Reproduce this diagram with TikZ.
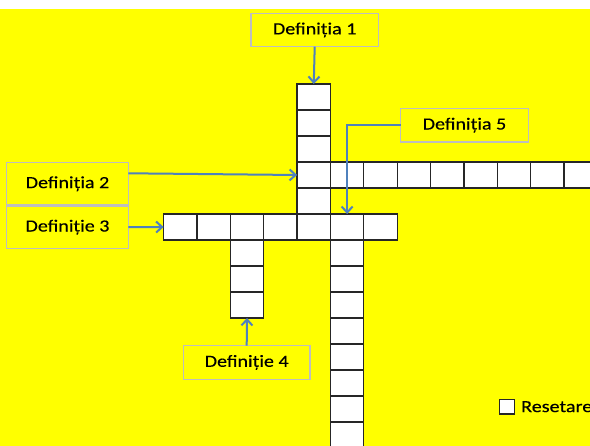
\documentclass[tikz,border=0pt]{standalone}
\usepackage{fontspec}
\setmainfont{Carlito}
\newfontfamily\lblfont[FakeStretch=1.18,FakeBold=0.3]{Carlito}
\usetikzlibrary{arrows.meta}
\definecolor{bgyellow}{RGB}{255,255,0}
\definecolor{arrblue}{RGB}{79,129,189}
\definecolor{boxgray}{RGB}{190,190,190}
\definecolor{cellline}{RGB}{38,38,38}
\tikzset{
  cell/.style={draw=cellline, line width=1.3pt, fill=white, inner sep=0pt, outer sep=0pt,
    minimum width=33.37pt, minimum height=26pt, anchor=north west},
  defbox/.style={draw=boxgray, line width=1.3pt, fill=bgyellow, inner sep=0pt, outer sep=0pt,
    font=\lblfont\fontsize{17}{20}\selectfont, text=black},
  arr/.style={draw=arrblue, line width=2pt, -{Straight Barb[length=6pt,width=11pt,line width=2pt]}},
  lbl/.style={inner sep=0pt, font=\lblfont\fontsize{17}{20}\selectfont, text=black}
}
\begin{document}
\begin{tikzpicture}[x=1pt,y=-1pt]
\clip (0,0) rectangle (590,446);
\fill[white] (0,0) rectangle (590,446);
\fill[bgyellow] (0,9) rectangle (590,446);
% cells
\foreach \j in {0,...,5} \node[cell] (c4-\j) at ({163.6+4*33.37},{84+\j*26}) {};
\foreach \k in {5,...,12} \node[cell] (c\k-3) at ({163.6+\k*33.37},{84+3*26}) {};
\foreach \k in {0,1,2,3,5,6} \node[cell] (c\k-5) at ({163.6+\k*33.37},{84+5*26}) {};
\foreach \j in {6,7,8} \node[cell] (c2-\j) at ({163.6+2*33.37},{84+\j*26}) {};
\foreach \j in {6,...,13} \node[cell] (c5-\j) at ({163.6+5*33.37},{84+\j*26}) {};
% definition boxes
\node[defbox, minimum width=127.3pt, minimum height=33.4pt] (d1) at (314.7,30) {Definiția 1};
\node[defbox, minimum width=127.6pt, minimum height=33.7pt] (d5) at (464.5,125.2) {Definiția 5};
\node[defbox, minimum width=121.6pt, minimum height=42.3pt] (d2) at (67.5,183.8) {Definiția 2};
\node[defbox, minimum width=121.6pt, minimum height=42.3pt] (d3) at (67.5,227.2) {Definiție 3};
\node[defbox, minimum width=126.7pt, minimum height=33.6pt] (d4) at (246.7,362.5) {Definiție 4};
% arrows
\draw[arr] (d1.south) -- (c4-0.north);
\draw[arr] (d5.west) -| (c5-5.north);
\draw[arr] ([yshift=10.5pt]d2.east) -- (c4-3.west);
\draw[arr] (d3.east) -- (c0-5.west);
\draw[arr] (d4.north) -- (c2-8.south);
% reset
\node[draw=cellline, line width=1.2pt, fill=white, inner sep=0pt, minimum width=15pt, minimum height=14.5pt] (chk) at (507,406.7) {};
\node[lbl, anchor=west] (reset) at (521,406.7) {Resetare};
\end{tikzpicture}
\end{document}
